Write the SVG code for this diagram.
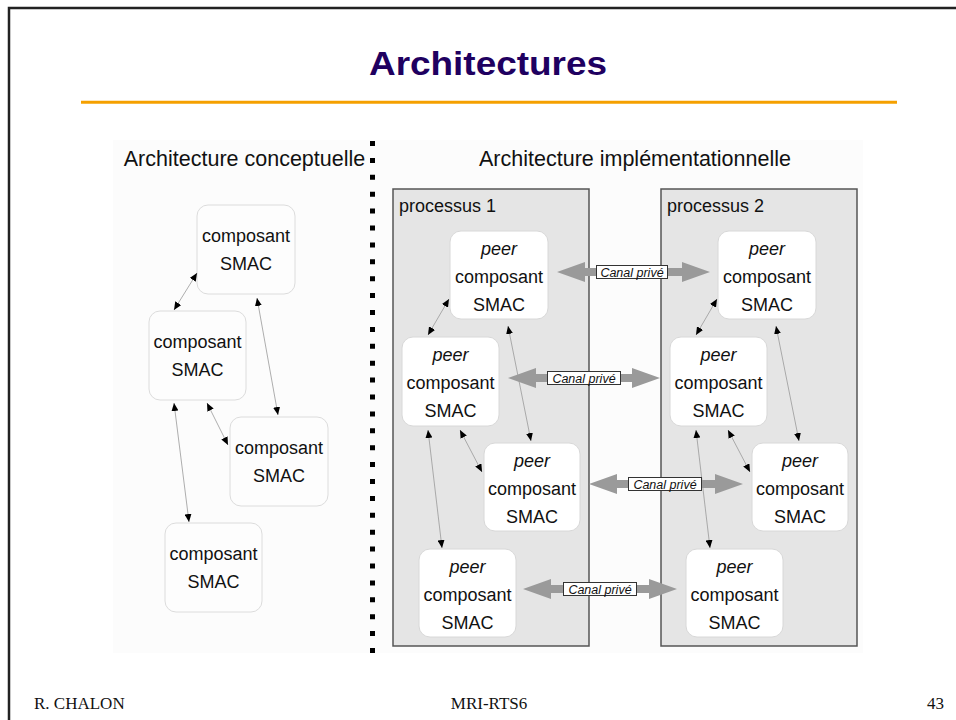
<svg xmlns="http://www.w3.org/2000/svg" width="956" height="720" viewBox="0 0 956 720">
<defs>
<style>
.node rect{fill:#fdfdfd;stroke:#dcdcdc;stroke-width:1}
.peer rect{fill:#ffffff;stroke:#d8d8d8;stroke-width:1}
.nt{font-family:"Liberation Sans",Arial,sans-serif;font-size:18px;fill:#111;text-anchor:middle}
.it{font-style:italic}
.hdr{font-family:"Liberation Sans",Arial,sans-serif;font-size:21.5px;fill:#111}
.proc{fill:#e5e5e5;stroke:#555;stroke-width:1.5}
.pl{font-family:"Liberation Sans",Arial,sans-serif;font-size:18px;fill:#111}
.conn line{stroke:#999;stroke-width:0.8;marker-start:url(#ah);marker-end:url(#ah)}
.big{fill:#9a9a9a}
.lbl{fill:#fff;stroke:#333;stroke-width:1}
.lt{font-family:"Liberation Sans",Arial,sans-serif;font-size:12.5px;font-style:italic;fill:#111;text-anchor:middle}
.foot{font-family:"Liberation Serif","Times New Roman",serif;font-size:17px;fill:#111}
</style>
<marker id="ah" markerWidth="8" markerHeight="7" refX="8" refY="3.5" orient="auto-start-reverse" markerUnits="userSpaceOnUse">
<path d="M0,0 L8,3.5 L0,7 z" fill="#000"/>
</marker>
</defs>
<rect width="956" height="720" fill="#fff"/>
<path d="M9,720 L9,8 L960,8" fill="none" stroke="#222" stroke-width="2.5"/>
<text x="488" y="75" font-family="Liberation Sans,Arial,sans-serif" font-weight="bold" font-size="33" fill="#1f0060" text-anchor="middle" textLength="238" lengthAdjust="spacingAndGlyphs">Architectures</text>
<line x1="81" y1="102.3" x2="897" y2="102.3" stroke="#f5a000" stroke-width="3"/>

<rect x="113" y="140" width="750" height="513" fill="#fcfcfc"/>
<line x1="372.5" y1="141" x2="372.5" y2="654" stroke="#000" stroke-width="5" stroke-dasharray="5 11.9"/>
<text class="hdr" x="244.5" y="166" text-anchor="middle">Architecture conceptuelle</text>
<text class="hdr" x="635" y="166" text-anchor="middle">Architecture implémentationnelle</text>

<g id="processus1"><rect class="proc" x="393" y="189" width="196" height="457"/><text class="pl" x="399" y="212">processus 1</text></g>
<g id="processus2"><rect class="proc" x="661" y="189" width="196" height="457"/><text class="pl" x="667" y="212">processus 2</text></g>

<g id="c1" class="node"><rect x="197" y="205" width="98" height="89" rx="11"/><text class="nt" x="246" y="242">composant</text><text class="nt" x="246" y="270">SMAC</text></g>
<g id="c2" class="node"><rect x="149" y="311" width="97" height="89" rx="11"/><text class="nt" x="197.5" y="348">composant</text><text class="nt" x="197.5" y="376">SMAC</text></g>
<g id="c3" class="node"><rect x="230" y="417" width="98" height="89" rx="11"/><text class="nt" x="279" y="454">composant</text><text class="nt" x="279" y="482">SMAC</text></g>
<g id="c4" class="node"><rect x="165" y="523" width="97" height="89" rx="11"/><text class="nt" x="213.5" y="560">composant</text><text class="nt" x="213.5" y="588">SMAC</text></g>

<g id="p1a" class="peer"><rect x="450" y="231" width="98" height="88" rx="11"/><text class="nt it" x="499" y="255">peer</text><text class="nt" x="499" y="283">composant</text><text class="nt" x="499" y="311">SMAC</text></g>
<g id="p1b" class="peer"><rect x="402" y="337" width="97" height="89" rx="11"/><text class="nt it" x="450.5" y="361">peer</text><text class="nt" x="450.5" y="389">composant</text><text class="nt" x="450.5" y="417">SMAC</text></g>
<g id="p1c" class="peer"><rect x="484" y="443" width="96" height="88" rx="11"/><text class="nt it" x="532" y="467">peer</text><text class="nt" x="532" y="495">composant</text><text class="nt" x="532" y="523">SMAC</text></g>
<g id="p1d" class="peer"><rect x="419" y="549" width="97" height="88" rx="11"/><text class="nt it" x="467.5" y="573">peer</text><text class="nt" x="467.5" y="601">composant</text><text class="nt" x="467.5" y="629">SMAC</text></g>

<g id="p2a" class="peer"><rect x="718" y="231" width="98" height="88" rx="11"/><text class="nt it" x="767" y="255">peer</text><text class="nt" x="767" y="283">composant</text><text class="nt" x="767" y="311">SMAC</text></g>
<g id="p2b" class="peer"><rect x="670" y="337" width="97" height="89" rx="11"/><text class="nt it" x="718.5" y="361">peer</text><text class="nt" x="718.5" y="389">composant</text><text class="nt" x="718.5" y="417">SMAC</text></g>
<g id="p2c" class="peer"><rect x="752" y="443" width="96" height="88" rx="11"/><text class="nt it" x="800" y="467">peer</text><text class="nt" x="800" y="495">composant</text><text class="nt" x="800" y="523">SMAC</text></g>
<g id="p2d" class="peer"><rect x="686" y="549" width="97" height="88" rx="11"/><text class="nt it" x="734.5" y="573">peer</text><text class="nt" x="734.5" y="601">composant</text><text class="nt" x="734.5" y="629">SMAC</text></g>

<g id="connectors">
<g class="conn">
<line x1="197" y1="273" x2="174" y2="310"/>
<line x1="257" y1="298" x2="278" y2="415"/>
<line x1="207" y1="403" x2="228" y2="445"/>
<line x1="174" y1="403" x2="189" y2="522"/>
<line x1="449" y1="299" x2="428" y2="335"/>
<line x1="508" y1="326" x2="531" y2="441"/>
<line x1="460" y1="430" x2="482" y2="472"/>
<line x1="428" y1="430" x2="442" y2="548"/>
<line x1="717" y1="299" x2="696" y2="335"/>
<line x1="776" y1="326" x2="799" y2="441"/>
<line x1="728" y1="430" x2="750" y2="472"/>
<line x1="696" y1="430" x2="710" y2="548"/>
</g>
<path class="big" d="M557,272 L585,262 L585,268 L682,268 L682,262 L710,272 L682,282 L682,276 L585,276 L585,282 Z"/>
<rect class="lbl" x="596.5" y="265.5" width="71" height="13"/><text class="lt" x="632" y="276.5">Canal privé</text>
<path class="big" d="M508,378 L536,368 L536,374 L632,374 L632,368 L660,378 L632,388 L632,382 L536,382 L536,388 Z"/>
<rect class="lbl" x="547.5" y="371.5" width="73" height="13"/><text class="lt" x="584" y="382.5">Canal privé</text>
<path class="big" d="M589,484 L617,474 L617,480 L715,480 L715,474 L743,484 L715,494 L715,488 L617,488 L617,494 Z"/>
<rect class="lbl" x="628.5" y="477.5" width="73" height="13"/><text class="lt" x="665" y="488.5">Canal privé</text>
<path class="big" d="M523,589 L551,579 L551,585 L649,585 L649,579 L677,589 L649,599 L649,593 L551,593 L551,599 Z"/>
<rect class="lbl" x="563.5" y="582.5" width="73" height="13"/><text class="lt" x="600" y="593.5">Canal privé</text>
</g>

<text class="foot" x="34" y="709">R. CHALON</text>
<text class="foot" x="489" y="709" text-anchor="middle">MRI-RTS6</text>
<text class="foot" x="944" y="709" text-anchor="end">43</text>
</svg>
